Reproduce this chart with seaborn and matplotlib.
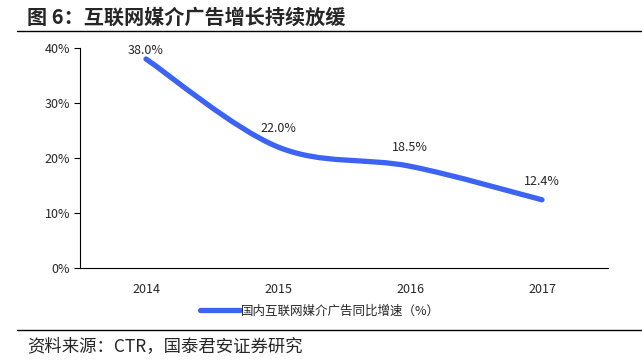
import numpy as np
import pandas as pd
import matplotlib.pyplot as plt
from matplotlib.path import Path
from matplotlib.patches import PathPatch
from matplotlib.lines import Line2D
import seaborn as sns

years = ['2014', '2015', '2016', '2017']
growth = [38.0, 22.0, 18.5, 12.4]
series_name = '国内互联网媒介广告同比增速（%）'
title = '图 6：互联网媒介广告增长持续放缓'
source = '资料来源：CTR，国泰君安证券研究'

sns.set_style('white')
plt.rcParams['font.family'] = ['Noto Sans CJK SC', 'DejaVu Sans']
blue = '#3d63f2'

df = pd.DataFrame({'year': years, 'growth': growth})

fig = plt.figure(figsize=(6.42, 3.64), dpi=100)
ax = fig.add_axes([80 / 642, 1 - 268 / 364, 528 / 642, 220 / 364])
sns.lineplot(data=df, x='year', y='growth', ax=ax, color=blue, lw=0)

# 平滑曲线（Catmull-Rom 转 Bezier 控制点）
xs = np.arange(len(growth), dtype=float)
ys = np.array(growth)
verts = [(xs[0], ys[0])]
codes = [Path.MOVETO]
for i in range(len(xs) - 1):
    p0 = (xs[max(i - 1, 0)], ys[max(i - 1, 0)])
    p1 = (xs[i], ys[i])
    p2 = (xs[i + 1], ys[i + 1])
    p3 = (xs[min(i + 2, len(xs) - 1)], ys[min(i + 2, len(xs) - 1)])
    t = 1 / 6
    c1 = (p1[0] + (p2[0] - p0[0]) * t, p1[1] + (p2[1] - p0[1]) * t)
    c2 = (p2[0] - (p3[0] - p1[0]) * t, p2[1] - (p3[1] - p1[1]) * t)
    verts += [c1, c2, p2]
    codes += [Path.CURVE4] * 3
ax.add_patch(PathPatch(Path(verts, codes), fill=False, ec=blue, lw=3.8,
                       capstyle='round', joinstyle='round', clip_on=False))

# 第一个标签贴近顶部，偏移小一些
offsets = [0.3, 2.2, 2.2, 2.2]
for x, v, off in zip(xs, growth, offsets):
    ax.text(x, v + off, f'{v:.1f}%', ha='center', va='bottom', fontsize=9)

ax.set_xlim(-0.5, len(years) - 0.5)
ax.set_ylim(0, 40)
ax.set_yticks([0, 10, 20, 30, 40])
ax.set_yticklabels([f'{t}%' for t in [0, 10, 20, 30, 40]], fontsize=9)
ax.set_xticks(xs)
ax.set_xticklabels(years, fontsize=9)
ax.set_xticks(np.arange(-0.5, len(years), 1), minor=True)
ax.tick_params(axis='x', which='major', length=0, pad=11)
ax.tick_params(axis='x', which='minor', length=4, width=0.8, direction='out', color='black')
ax.tick_params(axis='y', length=4, width=0.8, direction='out', color='black', pad=3, left=True)
ax.set_xlabel('')
ax.set_ylabel('')
for s in ['top', 'right']:
    ax.spines[s].set_visible(False)
for s in ['left', 'bottom']:
    ax.spines[s].set_color('black')
    ax.spines[s].set_linewidth(0.8)

handle = Line2D([], [], color=blue, lw=3.8)
fig.legend([handle], [series_name], loc='center', bbox_to_anchor=(320 / 642, 1 - 311 / 364),
           frameon=False, fontsize=9, handlelength=3.2, handletextpad=0.1)

fig.text(27 / 642, 1 - 17 / 364, title, fontsize=14.5, fontweight='bold', va='center', ha='left')
fig.add_artist(Line2D([17 / 642, 1], [1 - 31 / 364] * 2, color='black', lw=1))
fig.add_artist(Line2D([17 / 642, 1], [1 - 330 / 364] * 2, color='black', lw=1))
fig.text(27 / 642, 1 - 346 / 364, source, fontsize=12.5, va='center', ha='left')

fig.savefig('out.png', dpi=100)
